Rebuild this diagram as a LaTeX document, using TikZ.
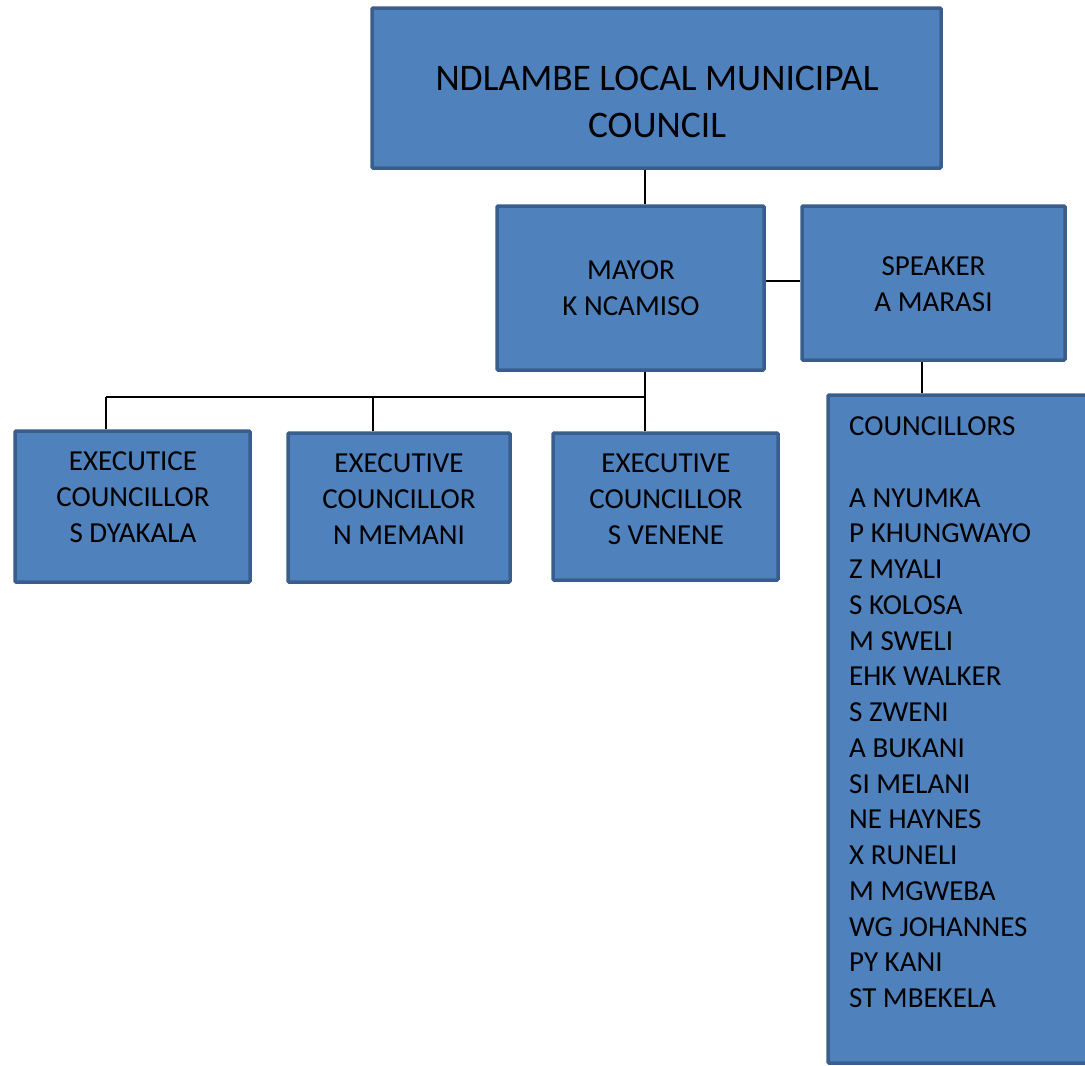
\documentclass[tikz,border=0pt]{standalone}
\usepackage{fontspec}
\setmainfont{Carlito}
\definecolor{boxfill}{HTML}{4F81BD}
\definecolor{boxline}{HTML}{3A5E8C}
\begin{document}
\begin{tikzpicture}[x=1pt,y=-1pt,
  box/.style={draw=boxline, fill=boxfill, line width=3.5pt, rounded corners=1.2pt, inner sep=0pt},
  txt/.style={inner sep=0pt, align=center, font=\fontsize{29}{35.75}\selectfont},
  conn/.style={line width=2.9pt, black}]
\useasboundingbox (0,0) rectangle (1085,1066);
\clip (0,0) rectangle (1085,1066);
% boxes
\node[box, minimum width=569pt, minimum height=160pt] (top) at (656.5,88) {};
\node[txt, font=\fontsize{37.5}{47}\selectfont] (toptxt) at (657,101.5) {NDLAMBE LOCAL MUNICIPAL\\COUNCIL};
\node[box, minimum width=267pt, minimum height=164pt] (mayor) at (630.5,288) {};
\node[txt] (mayortxt) at (631,288.5) {MAYOR\\K NCAMISO};
\node[box, minimum width=263pt, minimum height=154pt] (speaker) at (933.5,283) {};
\node[txt] (speakertxt) at (933.5,284) {SPEAKER\\A MARASI};
\node[box, minimum width=235pt, minimum height=151pt] (exa) at (132.5,506.5) {};
\node[txt] (exatxt) at (133,497) {EXECUTICE\\COUNCILLOR\\S DYAKALA};
\node[box, minimum width=222pt, minimum height=149pt] (exb) at (399,507.5) {};
\node[txt] (exbtxt) at (399,499) {EXECUTIVE\\COUNCILLOR\\N MEMANI};
\node[box, minimum width=225pt, minimum height=147pt] (exc) at (665.5,506.5) {};
\node[txt] (exctxt) at (666,499) {EXECUTIVE\\COUNCILLOR\\S VENENE};
\node[box, minimum width=280pt, minimum height=668pt] (coun) at (968,729) {};
\node[txt, align=left, anchor=north west] (countxt) at (849,416.5) {COUNCILLORS\\[35.75pt]A NYUMKA\\P KHUNGWAYO\\Z MYALI\\S KOLOSA\\M SWELI\\EHK WALKER\\S ZWENI\\A BUKANI\\SI MELANI\\NE HAYNES\\X RUNELI\\M MGWEBA\\WG JOHANNES\\PY KANI\\ST MBEKELA};
% connectors
\coordinate (cx) at (645,0);
\coordinate (bus) at (0,397);
\coordinate (ms) at (0,281);
\coordinate (xa) at (106,0);
\coordinate (xb) at (373,0);
\coordinate (xs) at (922,0);
\draw[conn] (top.south -| cx) -- (mayor.north -| cx);
\draw[conn] (mayor.east |- ms) -- (speaker.west |- ms);
\draw[conn] (mayor.south -| cx) -- (exc.north -| cx);
\draw[conn] (bus -| xa) -- (bus -| cx);
\draw[conn] (bus -| xa) -- (exa.north -| xa);
\draw[conn] (bus -| xb) -- (exb.north -| xb);
\draw[conn] (speaker.south -| xs) -- (coun.north -| xs);
\end{tikzpicture}
\end{document}
